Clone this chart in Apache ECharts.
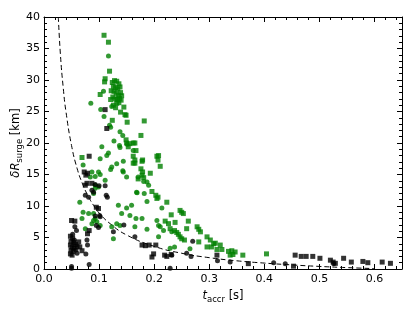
<!DOCTYPE html>
<html>
<head>
<meta charset="utf-8">
<script src="https://cdn.jsdelivr.net/npm/echarts@6/dist/echarts.min.js"></script>
<style>html,body{margin:0;padding:0;background:#fff}#c{width:415px;height:312px}</style>
</head>
<body>
<div id="c"></div>
<script>
// Tick labels
const xTicks = [0.0, 0.1, 0.2, 0.3, 0.4, 0.5, 0.6];
const yTicks = [0, 5, 10, 15, 20, 25, 30, 35, 40];

// Green squares [t_accr, dR_surge]
const greenSquares = [
[0.109,37.1],[0.117,36.0],[0.119,31.4],[0.111,30.2],[0.110,29.7],[0.102,27.7],
[0.124,29.6],[0.128,29.9],[0.132,29.8],[0.136,29.4],[0.126,29.0],[0.130,28.8],[0.134,28.6],[0.138,28.9],
[0.122,28.3],[0.127,28.2],[0.131,27.9],[0.135,27.6],[0.139,28.0],[0.125,27.3],[0.129,27.0],[0.133,26.9],
[0.137,27.1],[0.141,27.5],[0.126,26.0],[0.132,26.3],[0.136,26.4],[0.140,26.8],[0.130,25.6],[0.121,26.9],
[0.145,25.7],[0.139,24.9],[0.147,24.5],[0.149,24.4],[0.151,23.3],[0.124,23.6],[0.182,23.5],[0.176,21.2],
[0.149,20.5],[0.150,20.0],[0.156,19.9],[0.162,20.0],[0.153,19.4],[0.165,20.0],[0.167,18.8],[0.165,16.8],
[0.208,18.0],[0.205,17.9],[0.207,17.3],[0.178,17.1],[0.179,17.3],[0.211,16.3],[0.162,17.9],[0.165,17.3],
[0.162,16.8],[0.176,15.9],[0.179,15.4],[0.178,14.9],[0.181,14.5],[0.193,15.2],[0.171,14.3],[0.069,17.7],
[0.196,12.3],[0.203,11.7],[0.205,11.2],[0.207,11.4],[0.223,10.6],[0.231,8.6],[0.247,9.3],[0.250,9.0],
[0.253,8.8],[0.262,7.6],[0.220,7.6],[0.226,7.2],[0.238,7.4],[0.229,6.4],[0.237,6.1],[0.241,5.8],
[0.244,5.5],[0.247,5.1],[0.250,4.8],[0.255,4.6],[0.259,6.4],[0.278,6.7],[0.281,6.3],[0.284,5.9],
[0.281,4.3],[0.296,5.1],[0.296,3.5],[0.304,3.5],[0.308,4.0],[0.302,4.6],[0.311,4.1],[0.320,3.8],
[0.314,3.1],[0.323,3.1],[0.335,2.8],[0.341,2.9],[0.347,2.7],[0.338,2.2],[0.343,2.3],[0.361,2.2],[0.404,2.4]
];

// Green circles
const greenCircles = [
[0.117,33.8],[0.108,28.2],[0.085,26.3],[0.103,25.3],[0.123,25.8],[0.109,24.2],[0.119,22.8],[0.121,22.5],
[0.138,21.8],[0.143,21.2],[0.127,20.3],[0.105,19.4],[0.137,19.6],[0.151,19.8],[0.138,19.3],[0.162,18.8],
[0.117,18.4],[0.114,18.0],[0.102,17.5],[0.132,16.7],[0.144,17.1],[0.071,16.5],[0.123,16.2],[0.121,15.8],
[0.143,15.6],[0.099,15.4],[0.102,15.0],[0.087,15.4],[0.093,14.7],[0.084,14.6],[0.150,14.6],[0.144,15.4],
[0.171,14.6],[0.111,14.1],[0.093,13.3],[0.099,13.0],[0.093,12.8],[0.090,12.0],[0.181,13.9],[0.187,13.8],
[0.190,13.3],[0.168,12.2],[0.182,12.0],[0.169,12.1],[0.187,10.7],[0.214,9.7],[0.065,10.6],[0.135,10.1],
[0.141,8.8],[0.150,9.7],[0.159,10.1],[0.156,8.5],[0.167,8.0],[0.132,7.2],[0.126,4.8],[0.138,6.9],
[0.071,9.0],[0.081,8.8],[0.090,8.8],[0.093,8.0],[0.090,7.7],[0.096,7.5],[0.069,8.0],[0.087,7.2],
[0.102,6.9],[0.075,6.4],[0.205,7.7],[0.208,6.9],[0.211,6.7],[0.165,6.7],[0.187,6.3],[0.229,3.3],
[0.237,3.5],[0.265,3.2],[0.123,6.7],[0.178,8.0],[0.217,6.1],[0.208,5.1],[0.232,5.9]
];

// Black squares
const blackSquares = [
[0.111,25.3],[0.114,22.3],[0.082,17.9],[0.073,15.4],[0.079,15.2],[0.076,14.9],[0.078,13.6],[0.075,13.3],
[0.087,13.6],[0.095,9.8],[0.099,9.6],[0.082,6.1],[0.079,5.6],[0.050,7.7],[0.056,7.6],
[0.048,5.2],[0.052,4.9],[0.049,4.4],[0.054,4.2],[0.048,3.8],[0.051,3.5],[0.055,3.3],[0.049,3.0],
[0.053,2.8],[0.048,2.4],[0.051,2.2],[0.057,3.9],[0.060,3.6],[0.065,3.5],[0.069,2.9],[0.063,4.3],
[0.178,3.8],[0.184,3.7],[0.191,3.8],[0.203,3.8],[0.199,2.4],[0.196,1.9],[0.219,2.2],[0.223,2.0],
[0.231,2.3],[0.314,2.2],[0.371,0.85],[0.453,0.45],[0.456,2.2],[0.467,2.0],[0.476,2.0],[0.488,2.0],
[0.501,1.7],[0.520,1.4],[0.525,1.1],[0.529,0.9],[0.544,1.7],[0.558,1.1],[0.579,1.2],[0.588,1.0],
[0.614,1.1],[0.629,0.9]
];

// Black circles
const blackCircles = [
[0.100,13.2],[0.093,13.4],[0.111,13.2],[0.087,12.5],[0.090,12.2],[0.075,11.7],[0.081,11.4],[0.113,11.7],
[0.115,11.4],[0.102,8.3],[0.093,8.4],[0.101,8.5],[0.095,6.9],[0.099,6.6],[0.056,6.7],[0.059,6.1],
[0.078,4.6],[0.079,3.8],[0.076,2.4],[0.050,0.4],[0.050,0.1],[0.082,0.7],[0.126,5.9],[0.145,7.0],
[0.165,5.1],[0.270,4.4],[0.232,2.2],[0.259,2.5],[0.267,2.0],[0.229,0.1],[0.315,1.3],[0.338,1.1],
[0.417,1.0],[0.438,0.85],[0.526,0.85],[0.052,5.5],[0.055,4.6],[0.058,3.0],[0.060,2.5]
];

// Dashed reference curve
const curveT = [0.026,0.03,0.035,0.04,0.05,0.06,0.07,0.08,0.09,0.10,0.12,0.15,0.20,0.25,0.30,0.35,0.40,0.45,0.50,0.55,0.60];
const curveR = [40.0,33.8,28.7,24.9,19.6,16.0,13.5,11.6,10.1,8.9,7.2,5.4,3.6,2.5,1.8,1.3,0.94,0.65,0.41,0.22,0.06];

const chart = echarts.init(document.getElementById('c'), null, {renderer:'canvas'});
const FONT = 'DejaVu Sans';
const baseAxis = {
  type:'value',
  axisLine:{show:true, onZero:false, lineStyle:{color:'#000', width:1}},
  axisTick:{show:true, inside:true, length:5, lineStyle:{color:'#000', width:1}},
  minorTick:{show:true, splitNumber:5, length:3, lineStyle:{color:'#000', width:1}},
  splitLine:{show:false},
  axisLabel:{color:'#000', fontFamily:FONT, fontSize:11}
};
const nameRich = {
  i:{fontFamily:FONT, fontSize:11.5, fontStyle:'italic', color:'#000'},
  s:{fontFamily:FONT, fontSize:8.5, color:'#000', verticalAlign:'bottom', padding:[6,0,0,0]},
  n:{fontFamily:FONT, fontSize:11.5, color:'#000'}
};
const option = {
  animation:false,
  backgroundColor:'#fff',
  grid:{left:44, right:13, top:17, bottom:43, containLabel:false, outerBoundsMode:'none'},
  xAxis:[
    Object.assign({}, baseAxis, {
      min:0, max:0.65, interval:0.1, position:'bottom',
      axisLabel:Object.assign({}, baseAxis.axisLabel, {margin:5, showMaxLabel:false,
        formatter:v=>{const k=xTicks.find(t=>Math.abs(t-v)<1e-6);return k===undefined?'':k.toFixed(1);}}),
      name:'{i|t}{s|accr}{n| [s]}', nameLocation:'middle', nameGap:20, nameMoveOverlap:false,
      nameTextStyle:{rich:nameRich}
    }),
    Object.assign({}, baseAxis, {min:0, max:0.65, interval:0.1, position:'top', axisLabel:{show:false}})
  ],
  yAxis:[
    Object.assign({}, baseAxis, {
      min:0, max:40, interval:5, position:'left',
      axisLabel:Object.assign({}, baseAxis.axisLabel, {margin:4}),
      name:'{i|δR}{s|surge}{n| [km]}', nameLocation:'middle', nameGap:20, nameRotate:90, nameMoveOverlap:false,
      nameTextStyle:{rich:nameRich}
    }),
    Object.assign({}, baseAxis, {min:0, max:40, interval:5, position:'right', axisLabel:{show:false}})
  ],
  series:[
    {type:'line', data:curveT.map((t,i)=>[t,curveR[i]]), smooth:true, symbol:'none',
     lineStyle:{color:'#000', width:1, type:[5,3]}, z:1},
    {type:'scatter', data:greenSquares, symbol:'rect', symbolSize:5, itemStyle:{color:'#008000'}, z:2},
    {type:'scatter', data:greenCircles, symbol:'circle', symbolSize:5, itemStyle:{color:'#008000'}, z:2},
    {type:'scatter', data:blackSquares, symbol:'rect', symbolSize:5, itemStyle:{color:'#000'}, z:3},
    {type:'scatter', data:blackCircles, symbol:'circle', symbolSize:5, itemStyle:{color:'#000'}, z:3}
  ]
};
chart.setOption(option);
</script>
</body>
</html>
